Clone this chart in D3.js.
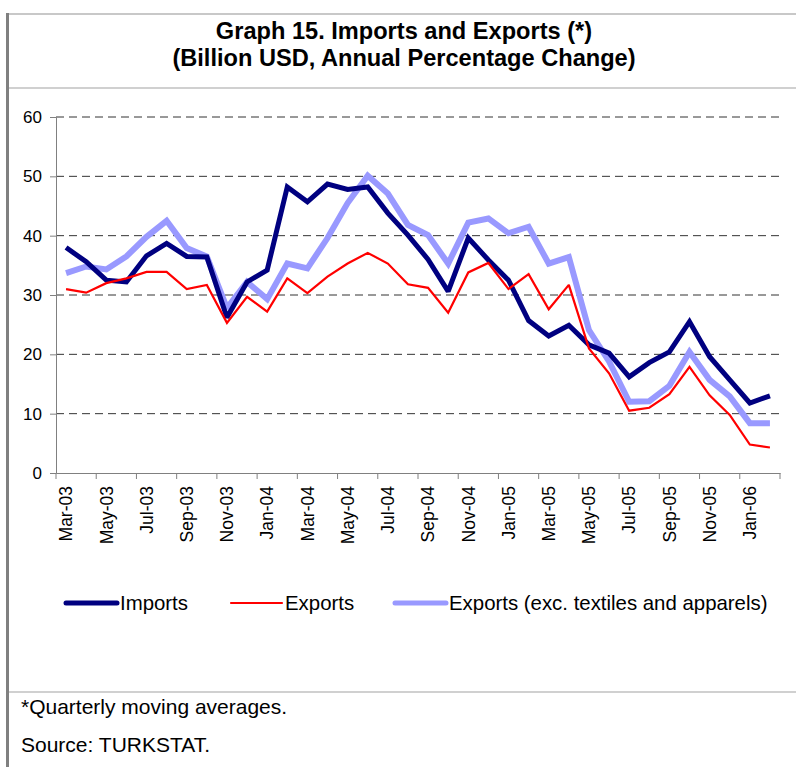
<!DOCTYPE html>
<html>
<head>
<meta charset="utf-8">
<script src="https://cdn.jsdelivr.net/npm/d3@7"></script>
<style>
  html, body { margin: 0; padding: 0; background: #fff; }
  svg { display: block; font-family: "Liberation Sans", Arial, sans-serif; }
</style>
</head>
<body>
<svg id="chart" width="796" height="767"></svg>
<script>
const months = ["Mar-03","Apr-03","May-03","Jun-03","Jul-03","Aug-03","Sep-03","Oct-03","Nov-03","Dec-03",
  "Jan-04","Feb-04","Mar-04","Apr-04","May-04","Jun-04","Jul-04","Aug-04","Sep-04","Oct-04","Nov-04","Dec-04",
  "Jan-05","Feb-05","Mar-05","Apr-05","May-05","Jun-05","Jul-05","Aug-05","Sep-05","Oct-05","Nov-05","Dec-05",
  "Jan-06","Feb-06"];

const imports = [38.0,35.6,32.5,32.2,36.6,38.7,36.5,36.4,26.2,32.2,
  34.2,48.2,45.7,48.7,47.8,48.2,43.8,40.1,36.0,30.6,39.6,35.9,
  32.5,25.7,23.1,24.9,21.6,20.2,16.2,18.6,20.4,25.5,19.6,15.7,
  11.8,13.0];

const exports = [31.0,30.4,32.0,32.8,33.9,33.9,31.0,31.7,25.3,29.7,
  27.2,32.8,30.3,33.1,35.3,37.1,35.3,31.8,31.2,27.0,33.8,35.4,
  31.0,33.5,27.6,31.7,21.0,16.8,10.5,11.0,13.3,17.9,13.1,9.8,
  4.8,4.3];

const exportsExTextiles = [33.7,34.8,34.3,36.5,39.8,42.5,37.9,36.5,27.8,32.2,
  29.3,35.3,34.5,39.6,45.5,50.1,47.1,41.8,40.1,35.3,42.2,42.9,
  40.4,41.5,35.3,36.4,24.1,18.8,12.0,12.1,14.7,20.4,15.7,12.9,
  8.4,8.4];

const yTicks = [0,10,20,30,40,50,60];
const titleLines = ["Graph 15. Imports and Exports (*)", "(Billion USD, Annual Percentage Change)"];
const seriesNames = ["Imports", "Exports", "Exports (exc. textiles and apparels)"];
const notes = ["*Quarterly moving averages.", "Source: TURKSTAT."];

const svg = d3.select("#chart");

// frame
svg.append("line").attr("x1", 8).attr("x2", 796).attr("y1", 14).attr("y2", 14)
  .attr("stroke", "#c8c8c8").attr("stroke-width", 2);
svg.append("line").attr("x1", 8).attr("x2", 796).attr("y1", 88).attr("y2", 88)
  .attr("stroke", "#d0d0d0").attr("stroke-width", 2);
svg.append("line").attr("x1", 8).attr("x2", 796).attr("y1", 692).attr("y2", 692)
  .attr("stroke", "#d0d0d0").attr("stroke-width", 2);
svg.append("line").attr("x1", 7.5).attr("x2", 7.5).attr("y1", 13).attr("y2", 767)
  .attr("stroke", "#808080").attr("stroke-width", 3);

// title
svg.selectAll("text.title").data(titleLines).enter().append("text")
  .attr("class", "title")
  .attr("x", 404).attr("y", (d, i) => 39 + i * 27)
  .attr("text-anchor", "middle")
  .attr("font-size", 23.6).attr("font-weight", "bold").attr("fill", "#000")
  .text(d => d);

const plotLeft = 56, plotRight = 780, plotTop = 117, plotBottom = 473;
const x = d3.scaleBand().domain(months).range([plotLeft, plotRight]).padding(0);
const y = d3.scaleLinear().domain([0, 60]).range([plotBottom, plotTop]);

// gridlines
svg.append("g").selectAll("line").data(yTicks.filter(v => v > 0)).enter().append("line")
  .attr("x1", plotLeft).attr("x2", plotRight)
  .attr("y1", d => y(d)).attr("y2", d => y(d))
  .attr("stroke", "#333").attr("stroke-width", 1).attr("stroke-dasharray", "8,5");

// y axis
const yAxis = svg.append("g").attr("transform", `translate(${plotLeft},0)`)
  .call(d3.axisLeft(y).tickValues(yTicks).tickSize(6).tickPadding(8).tickFormat(d3.format("d")));
yAxis.select(".domain").attr("stroke", "#808080");
yAxis.selectAll(".tick line").attr("stroke", "#808080");
yAxis.selectAll(".tick text").attr("font-size", 17).attr("fill", "#000")
  .attr("font-family", "Liberation Sans, Arial, sans-serif");

// x axis (labels)
const labelCats = months.filter((d, i) => i % 2 === 0);
const xAxis = svg.append("g").attr("transform", `translate(0,${plotBottom})`)
  .call(d3.axisBottom(x).tickValues(labelCats).tickSize(0).tickSizeOuter(0));
xAxis.select(".domain").attr("stroke", "#808080");
xAxis.selectAll(".tick text")
  .attr("font-size", 17.5).attr("fill", "#000")
  .attr("font-family", "Liberation Sans, Arial, sans-serif")
  .attr("transform", "rotate(-90)")
  .attr("text-anchor", "end")
  .attr("x", -13).attr("y", 0).attr("dy", "0.36em");

// x tick marks at category boundaries every two months
const tickPos = labelCats.map(c => x(c)).concat([x.range()[1]]);
svg.append("g").selectAll("line").data(tickPos).enter().append("line")
  .attr("x1", d => d).attr("x2", d => d)
  .attr("y1", plotBottom).attr("y2", plotBottom + 6)
  .attr("stroke", "#808080").attr("stroke-width", 1);

const line = d3.line().x((d, i) => x(months[i]) + x.bandwidth() / 2).y(d => y(d));

const series = [
  { name: seriesNames[2], values: exportsExTextiles, color: "#9999ff", width: 6 },
  { name: seriesNames[0], values: imports, color: "#000080", width: 5 },
  { name: seriesNames[1], values: exports, color: "#ff0000", width: 2.2 }
];

svg.append("g").selectAll("path").data(series).enter().append("path")
  .attr("d", d => line(d.values))
  .attr("fill", "none")
  .attr("stroke", d => d.color)
  .attr("stroke-width", d => d.width)
  .attr("stroke-linejoin", "miter")
  .attr("stroke-miterlimit", 2);

// legend
const legendItems = [
  { name: seriesNames[0], color: "#000080", width: 5, x: 66 },
  { name: seriesNames[1], color: "#ff0000", width: 2.2, x: 231 },
  { name: seriesNames[2], color: "#9999ff", width: 5, x: 395 }
];
const lg = svg.append("g").selectAll("g").data(legendItems).enter().append("g")
  .attr("transform", d => `translate(${d.x},603)`);
lg.append("line").attr("x1", 0).attr("x2", 51).attr("y1", 0).attr("y2", 0)
  .attr("stroke", d => d.color).attr("stroke-width", d => d.width).attr("stroke-linecap", "round");
lg.append("text").attr("x", 54).attr("y", 0).attr("dy", "0.35em")
  .attr("font-size", 20.4).attr("fill", "#000").text(d => d.name);

// notes
svg.selectAll("text.note").data(notes).enter().append("text")
  .attr("class", "note")
  .attr("x", 21).attr("y", (d, i) => 714 + i * 38)
  .attr("font-size", 21).attr("fill", "#000")
  .text(d => d);
</script>
</body>
</html>
